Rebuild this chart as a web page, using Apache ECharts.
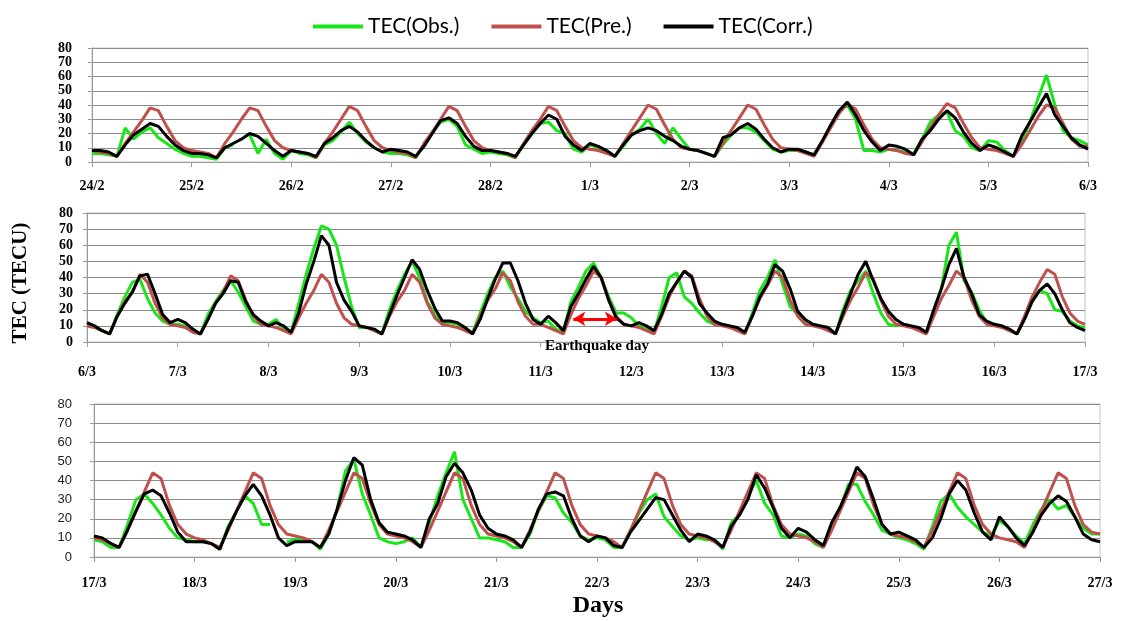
<!DOCTYPE html>
<html>
<head>
<meta charset="utf-8">
<script src="https://cdn.jsdelivr.net/npm/echarts@6/dist/echarts.min.js"></script>
<style>
  html, body { margin: 0; padding: 0; background: #fff; }
  #chart { width: 1122px; height: 621px; }
</style>
</head>
<body>
<div id="chart"></div>
<script>
// TEC, 2-hourly samples (12 per day); one row per day, last value = next day 00 UT
var SPD = 12;

var days1 = ['24/2', '25/2', '26/2', '27/2', '28/2', '1/3', '2/3', '3/3', '4/3', '5/3', '6/3'];
var days2 = ['6/3', '7/3', '8/3', '9/3', '10/3', '11/3', '12/3', '13/3', '14/3', '15/3', '16/3', '17/3'];
var days3 = ['17/3', '18/3', '19/3', '20/3', '21/3', '22/3', '23/3', '24/3', '25/3', '26/3', '27/3'];

// panel 1 : 24/2 - 6/3
var obs1 = [
  6, 6, 5, 4, 24, 16, 21, 24, 17, 13, 9, 6,
  4, 4, 3, 2, 10, 12, null, 19, 6, 16, 6, 2,
  8, 6, 5, 3, 12, 15, 21, 28, 20, 14, 10, 7,
  6, 6, 5, 3, 12, 21, 28, 30, 25, 12, 9, 6,
  7, 6, 5, 3, 12, 20, 27, 28, 22, 20, 9, 7,
  12, 10, 7, 4, 11, 19, 23, 30, 20, 13, 24, 16,
  9, 8, 6, 4, 12, 19, 24, 24, 21, 15, 9, 7,
  8, 8, 7, 5, 14, 25, 36, 40, 30, 8, 8, 7,
  9, 8, 7, 6, 16, 28, 33, 35, 22, 18, 10, 8,
  15, 14, 8, 4, 14, 28, 45, 61, 40, 22, 17, 15,
  12
];
var pre1 = [
  8, 7, 6, 4, 13, 21, 29, 38, 36, 25, 15, 10,
  8, 7, 6, 3, 13, 21, 30, 38, 36, 25, 15, 10,
  8, 7, 6, 3, 13, 21, 30, 39, 36, 25, 15, 10,
  8, 7, 6, 3, 13, 21, 30, 39, 36, 25, 15, 10,
  8, 7, 6, 3, 13, 22, 30, 39, 36, 25, 15, 10,
  9, 8, 6, 4, 13, 22, 31, 40, 37, 26, 16, 10,
  9, 8, 6, 4, 13, 22, 31, 40, 37, 26, 16, 10,
  9, 8, 6, 4, 14, 24, 34, 41, 37, 26, 16, 10,
  9, 8, 6, 5, 14, 24, 33, 41, 38, 27, 17, 10,
  9, 8, 6, 4, 12, 22, 32, 40, 38, 27, 16, 11,
  11
];
var corr1 = [
  8, 8, 7, 4, 12, 19, 23, 27, 25, 18, 12, 8,
  6, 6, 5, 3, 10, 13, 16, 20, 18, 13, 8, 4,
  8, 7, 6, 4, 13, 17, 22, 25, 21, 15, 10, 7,
  9, 8, 7, 4, 11, 20, 29, 31, 27, 18, 11, 8,
  8, 7, 6, 4, 12, 20, 27, 33, 30, 18, 12, 8,
  13, 11, 8, 4, 12, 19, 22, 24, 22, 18, 15, 11,
  9, 8, 6, 4, 17, 19, 24, 27, 23, 16, 10, 7,
  9, 9, 7, 5, 15, 26, 36, 42, 33, 22, 14, 8,
  12, 11, 9, 5, 16, 22, 30, 36, 31, 21, 13, 8,
  12, 10, 7, 4, 18, 28, 38, 48, 33, 25, 17, 12,
  9
];

// panel 2 : 6/3 - 17/3
var obs2 = [
  10, 9, 7, 5, 17, 28, 37, 39, 27, 18, 13, 11,
  11, 10, 7, 5, 17, 25, 32, 38, 31, 22, 13, 11,
  11, 14, 8, 6, 24, 42, 58, 72, 70, 60, 40, 22,
  9, 9, 7, 5, 20, 32, 42, 50, 40, 25, 17, 11,
  12, 11, 8, 6, 18, 30, 40, 44, 34, 27, 19, 15,
  12, 13, 8, 6, 25, 34, 44, 49, 40, 28, 18, 18,
  15, 10, 9, 6, 22, 40, 43, 28, 24, 18, 13, 11,
  11, 10, 8, 5, 18, 32, 40, 51, 36, 22, 17, 13,
  11, 10, 9, 5, 20, 32, 38, 44, 30, 18, 11, 10,
  11, 10, 8, 5, 20, 33, 60, 68, 38, 31, 20, 12,
  11, 10, 7, 5, 15, 25, 32, 30, 20, 19, 13, 10,
  9
];
var pre2 = [
  10, 9, 7, 5, 16, 25, 31, 42, 37, 24, 15, 11,
  10, 9, 6, 5, 14, 24, 31, 41, 38, 26, 16, 11,
  10, 9, 7, 5, 15, 24, 32, 42, 37, 24, 15, 11,
  10, 9, 7, 5, 16, 25, 32, 42, 37, 24, 15, 11,
  10, 9, 7, 5, 16, 26, 33, 43, 38, 25, 16, 11,
  11, 9, 7, 5, 17, 27, 35, 44, 40, 26, 16, 11,
  10, 9, 7, 5, 16, 28, 37, 44, 41, 27, 16, 11,
  10, 9, 7, 5, 16, 27, 35, 44, 40, 26, 16, 11,
  10, 9, 7, 5, 16, 26, 34, 43, 39, 26, 16, 11,
  10, 9, 7, 5, 16, 27, 35, 44, 40, 26, 16, 11,
  10, 9, 7, 5, 16, 28, 37, 45, 42, 28, 18, 13,
  11
];
var corr2 = [
  12, 10, 7, 5, 16, 24, 31, 41, 42, 30, 17, 12,
  14, 12, 8, 5, 14, 24, 30, 38, 37, 25, 17, 13,
  10, 12, 10, 6, 18, 36, 50, 66, 60, 37, 26, 19,
  10, 9, 8, 5, 17, 29, 40, 51, 45, 32, 21, 13,
  13, 12, 9, 5, 14, 27, 39, 49, 49, 38, 24, 14,
  11, 16, 12, 7, 22, 30, 39, 47, 40, 26, 15, 11,
  10, 12, 10, 7, 17, 30, 37, 44, 40, 24, 18, 13,
  11, 10, 9, 6, 16, 28, 36, 48, 44, 33, 19, 14,
  11, 10, 9, 5, 18, 30, 42, 50, 38, 27, 19, 14,
  11, 10, 9, 6, 20, 33, 48, 58, 40, 30, 17, 13,
  11, 10, 8, 5, 14, 25, 32, 36, 30, 20, 12, 9,
  7
];

// panel 3 : 17/3 - 27/3
var obs3 = [
  9, 8, 5, 5, 17, 30, 33, 28, 22, 15, 10, 9,
  8, 8, 7, 4, 16, 24, 32, 28, 17, 17, null, 8,
  9, 9, 8, 4, 12, 25, 45, 51, 33, 22, 10, 8,
  7, 8, 10, 5, 18, 32, 44, 55, 30, 20, 10, 10,
  9, 8, 5, 5, 12, 24, 32, 31, 23, 18, 11, 9,
  10, 9, 5, 5, 14, 23, 30, 33, 21, 16, 11, 9,
  10, 9, 9, 4, 18, 22, 32, 40, 28, 22, 11, 10,
  12, 11, 7, 5, 16, 25, 38, 38, 29, 22, 14, 12,
  10, 9, 7, 4, 16, 29, 33, 26, 21, 17, 13, 11,
  19, 16, 11, 7, 17, 25, 30, 25, 27, 21, 15, 12,
  12
];
var pre3 = [
  10, 9, 7, 5, 14, 24, 34, 44, 41, 27, 17, 12,
  10, 9, 7, 5, 14, 24, 34, 44, 41, 27, 17, 12,
  11, 10, 8, 5, 14, 24, 34, 44, 41, 28, 17, 12,
  11, 10, 8, 5, 14, 24, 34, 44, 41, 27, 17, 12,
  11, 10, 8, 5, 14, 24, 34, 44, 41, 27, 17, 12,
  11, 10, 8, 5, 14, 24, 34, 44, 41, 27, 17, 12,
  11, 10, 8, 5, 14, 24, 34, 44, 41, 27, 17, 12,
  11, 10, 8, 5, 14, 24, 34, 44, 41, 27, 17, 12,
  11, 10, 8, 5, 14, 24, 34, 44, 41, 27, 17, 12,
  10, 9, 8, 5, 14, 24, 34, 44, 41, 27, 17, 13,
  12
];
var corr3 = [
  11, 10, 7, 5, 14, 24, 33, 35, 32, 23, 13, 8,
  8, 8, 7, 4, 15, 24, 32, 38, 32, 22, 10, 6,
  8, 8, 8, 5, 12, 25, 40, 52, 48, 30, 18, 13,
  12, 11, 9, 5, 20, 28, 42, 49, 44, 35, 22, 15,
  12, 11, 9, 5, 13, 25, 33, 34, 32, 20, 11, 8,
  11, 10, 6, 5, 13, 19, 25, 31, 30, 22, 14, 8,
  12, 11, 9, 5, 16, 22, 30, 43, 36, 26, 15, 10,
  15, 13, 9, 6, 18, 26, 36, 47, 42, 30, 17, 12,
  13, 11, 9, 5, 10, 20, 33, 40, 35, 23, 13, 9,
  21, 16, 10, 6, 13, 22, 28, 32, 29, 21, 12, 9,
  8
];

// earthquake day marker (panel 2, in days from 6/3 and TECU)
var quakeSpan = [5.36, 5.84];
var quakeLevel = 14.4;

var GREEN = '#19e619', RED = '#c0504d', BLACK = '#000000';
var serifBold = { fontFamily: 'Liberation Serif', fontWeight: 'bold', color: '#000' };

function pairs(arr) {
  return arr.map(function (v, i) { return [i / SPD, v]; });
}

function xAxisFor(idx, labels, margin) {
  return {
    type: 'value', gridIndex: idx, min: 0, max: labels.length - 1, interval: 1,
    axisLine: { show: true, onZero: false, lineStyle: { color: '#9a9a9a' } },
    axisTick: { show: true, length: 5, lineStyle: { color: '#9a9a9a' } },
    splitLine: { show: false },
    axisLabel: Object.assign({ fontSize: 14, margin: margin,
      formatter: function (v) { return labels[Math.round(v)]; } }, serifBold)
  };
}

function yAxisFor(idx, lbl) {
  return {
    type: 'value', gridIndex: idx, min: 0, max: 80, interval: 10,
    axisLine: { show: true, lineStyle: { color: '#9a9a9a' } },
    axisTick: { show: true, length: 4, lineStyle: { color: '#9a9a9a' } },
    splitLine: { show: true, lineStyle: { color: '#8a8a8a', width: 1 } },
    axisLabel: lbl
  };
}

function lineSeries(name, data, color, idx, extra) {
  return Object.assign({
    name: name, type: 'line', xAxisIndex: idx, yAxisIndex: idx,
    data: pairs(data), showSymbol: false, symbol: 'none', connectNulls: false,
    lineStyle: { color: color, width: 3 }, itemStyle: { color: color },
    emphasis: { disabled: true }, z: 2
  }, extra || {});
}

var chart = echarts.init(document.getElementById('chart'), null, { renderer: 'canvas' });

var gridBase = { show: true, borderColor: '#c4c4c4', borderWidth: 1, backgroundColor: 'transparent' };

var option = {
  animation: false,
  backgroundColor: '#fff',
  legend: {
    top: 11, left: 308, itemGap: 32, itemWidth: 50, itemHeight: 4, icon: 'rect',
    textStyle: { fontFamily: 'Lato', fontSize: 21, color: '#000' },
    data: ['TEC(Obs.)', 'TEC(Pre.)', 'TEC(Corr.)']
  },
  grid: [
    Object.assign({ left: 92, top: 48, width: 996, height: 114 }, gridBase),
    Object.assign({ left: 87, top: 213, width: 998, height: 129 }, gridBase),
    Object.assign({ left: 94, top: 404, width: 1006, height: 153 }, gridBase)
  ],
  xAxis: [xAxisFor(0, days1, 17), xAxisFor(1, days2, 23), xAxisFor(2, days3, 19)],
  yAxis: [
    yAxisFor(0, Object.assign({ fontSize: 14, margin: 20 }, serifBold)),
    yAxisFor(1, Object.assign({ fontSize: 14, margin: 14 }, serifBold)),
    yAxisFor(2, { fontFamily: 'Liberation Sans', fontSize: 13, color: '#222', margin: 22 })
  ],
  graphic: [
    { type: 'text', x: 21, y: 283, rotation: Math.PI / 2,
      style: { text: 'TEC (TECU)', font: 'bold 21px "Liberation Serif"', fill: '#000',
        align: 'center', verticalAlign: 'middle' } },
    { type: 'text', x: 598, y: 606,
      style: { text: 'Days', font: 'bold 24px "Liberation Serif"', fill: '#000',
        align: 'center', verticalAlign: 'middle' } },
    { type: 'text', x: 597, y: 346, z: 10,
      style: { text: 'Earthquake day', font: 'bold 15px "Liberation Serif"', fill: '#000',
        align: 'center', verticalAlign: 'middle' } }
  ],
  series: [
    lineSeries('TEC(Obs.)', obs1, GREEN, 0),
    lineSeries('TEC(Pre.)', pre1, RED, 0),
    lineSeries('TEC(Corr.)', corr1, BLACK, 0),
    lineSeries('TEC(Obs.)', obs2, GREEN, 1),
    lineSeries('TEC(Pre.)', pre2, RED, 1),
    lineSeries('TEC(Corr.)', corr2, BLACK, 1, {
      markLine: {
        silent: true, symbol: ['arrow', 'arrow'], symbolSize: [11, 12],
        label: { show: false },
        lineStyle: { color: '#ff0000', width: 3, type: 'solid' },
        data: [[{ coord: [quakeSpan[0], quakeLevel] }, { coord: [quakeSpan[1], quakeLevel] }]]
      }
    }),
    lineSeries('TEC(Obs.)', obs3, GREEN, 2),
    lineSeries('TEC(Pre.)', pre3, RED, 2),
    lineSeries('TEC(Corr.)', corr3, BLACK, 2)
  ]
};

chart.setOption(option);
</script>
</body>
</html>
